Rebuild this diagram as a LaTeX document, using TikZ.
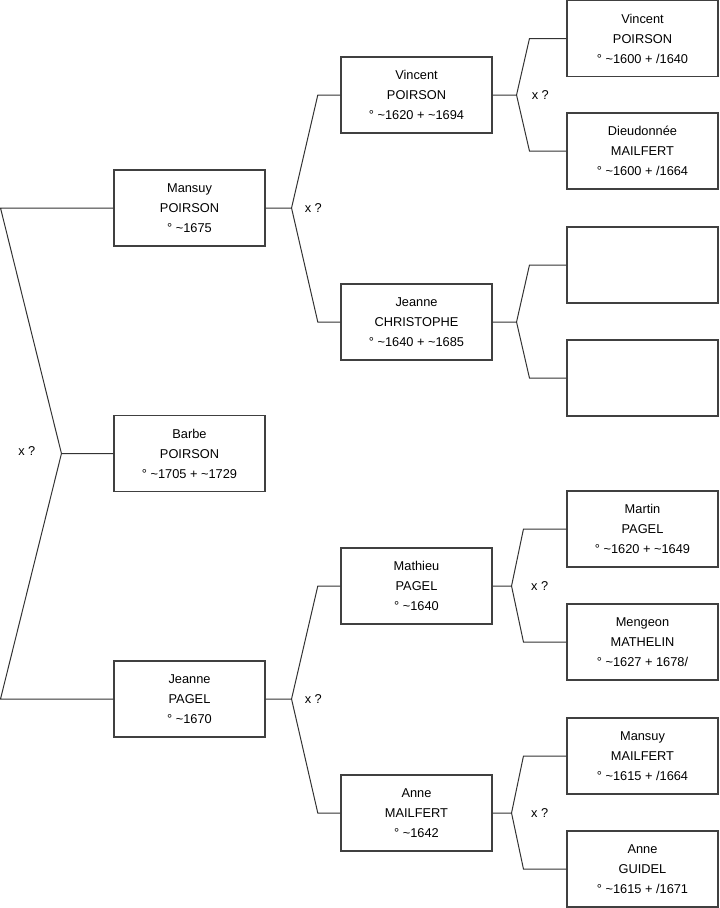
\documentclass[tikz,border=0pt]{standalone}
\usepackage{fontspec}
\setmainfont{Liberation Sans}
\usetikzlibrary{positioning}

\newcommand{\abt}{\textasciitilde}

\tikzset{
  person/.style={draw=black!75, line width=0.8pt, minimum width=113.25pt,
    minimum height=57pt, inner sep=0pt, align=center,
    font=\fontsize{9.6}{15}\selectfont},
  link/.style={draw=black!80, line width=0.75pt},
  mark x/.style={inner sep=0pt, font=\fontsize{9.6}{12}\selectfont},
}

\begin{document}
\begin{tikzpicture}[x=0.75pt, y=-0.75pt]
  \useasboundingbox (0,0) rectangle (719,908);

  % generation 1
  \node[person] (mansuy)  at (189.5,208)   {Mansuy\\POIRSON\\° \abt1675};
  \node[person] (barbe)   at (189.5,453.5) {Barbe\\POIRSON\\° \abt1705 + \abt1729};
  \node[person] (jeanneP) at (189.5,699)   {Jeanne\\PAGEL\\° \abt1670};

  % generation 2
  \node[person] (vincent)  at (416.5,95)  {Vincent\\POIRSON\\° \abt1620 + \abt1694};
  \node[person] (jeanneC)  at (416.5,322) {Jeanne\\CHRISTOPHE\\° \abt1640 + \abt1685};
  \node[person] (mathieu)  at (416.5,586) {Mathieu\\PAGEL\\° \abt1640};
  \node[person] (anneM)    at (416.5,813) {Anne\\MAILFERT\\° \abt1642};

  % generation 3
  \node[person] (vincentP) at (642.5,38.5) {Vincent\\POIRSON\\° \abt1600 + /1640};
  \node[person] (dieud)    at (642.5,151)  {Dieudonnée\\MAILFERT\\° \abt1600 + /1664};
  \node[person] (blankA)   at (642.5,265)  {};
  \node[person] (blankB)   at (642.5,378)  {};
  \node[person] (martin)   at (642.5,529)  {Martin\\PAGEL\\° \abt1620 + \abt1649};
  \node[person] (mengeon)  at (642.5,642)  {Mengeon\\MATHELIN\\° \abt1627 + 1678/};
  \node[person] (mansuyM)  at (642.5,756)  {Mansuy\\MAILFERT\\° \abt1615 + /1664};
  \node[person] (anneG)    at (642.5,869)  {Anne\\GUIDEL\\° \abt1615 + /1671};

  % root couple
  \draw[link] (barbe.west) -- ++(-52,0) coordinate (r0)
    -- (mansuy.west -| 0.5,0) -- (mansuy.west);
  \draw[link] (r0) -- (jeanneP.west -| 0.5,0) -- (jeanneP.west);
  \node[mark x, anchor=west] at (18,451) {x ?};

  % parents of Mansuy
  \draw[link] (mansuy.east) -- ++(26,0) coordinate (b1)
    -- ([xshift=-17pt]vincent.west) -- (vincent.west);
  \draw[link] (b1) -- ([xshift=-17pt]jeanneC.west) -- (jeanneC.west);
  \node[mark x, right=9.75pt of b1] {x ?};

  % parents of Jeanne
  \draw[link] (jeanneP.east) -- ++(26,0) coordinate (b2)
    -- ([xshift=-17pt]mathieu.west) -- (mathieu.west);
  \draw[link] (b2) -- ([xshift=-17pt]anneM.west) -- (anneM.west);
  \node[mark x, right=9.75pt of b2] {x ?};

  % parents of Vincent
  \draw[link] (vincent.east) -- ++(24,0) coordinate (b3)
    -- ([xshift=-27.75pt]vincentP.west) -- (vincentP.west);
  \draw[link] (b3) -- ([xshift=-27.75pt]dieud.west) -- (dieud.west);
  \node[mark x, right=11.25pt of b3] {x ?};

  % parents of Jeanne Christophe
  \draw[link] (jeanneC.east) -- ++(24,0) coordinate (b4)
    -- ([xshift=-27.75pt]blankA.west) -- (blankA.west);
  \draw[link] (b4) -- ([xshift=-27.75pt]blankB.west) -- (blankB.west);

  % parents of Mathieu
  \draw[link] (mathieu.east) -- ++(19,0) coordinate (b5)
    -- ([xshift=-32.25pt]martin.west) -- (martin.west);
  \draw[link] (b5) -- ([xshift=-32.25pt]mengeon.west) -- (mengeon.west);
  \node[mark x, right=14.5pt of b5] {x ?};

  % parents of Anne Mailfert
  \draw[link] (anneM.east) -- ++(19,0) coordinate (b6)
    -- ([xshift=-32.25pt]mansuyM.west) -- (mansuyM.west);
  \draw[link] (b6) -- ([xshift=-32.25pt]anneG.west) -- (anneG.west);
  \node[mark x, right=14.5pt of b6] {x ?};
\end{tikzpicture}
\end{document}
